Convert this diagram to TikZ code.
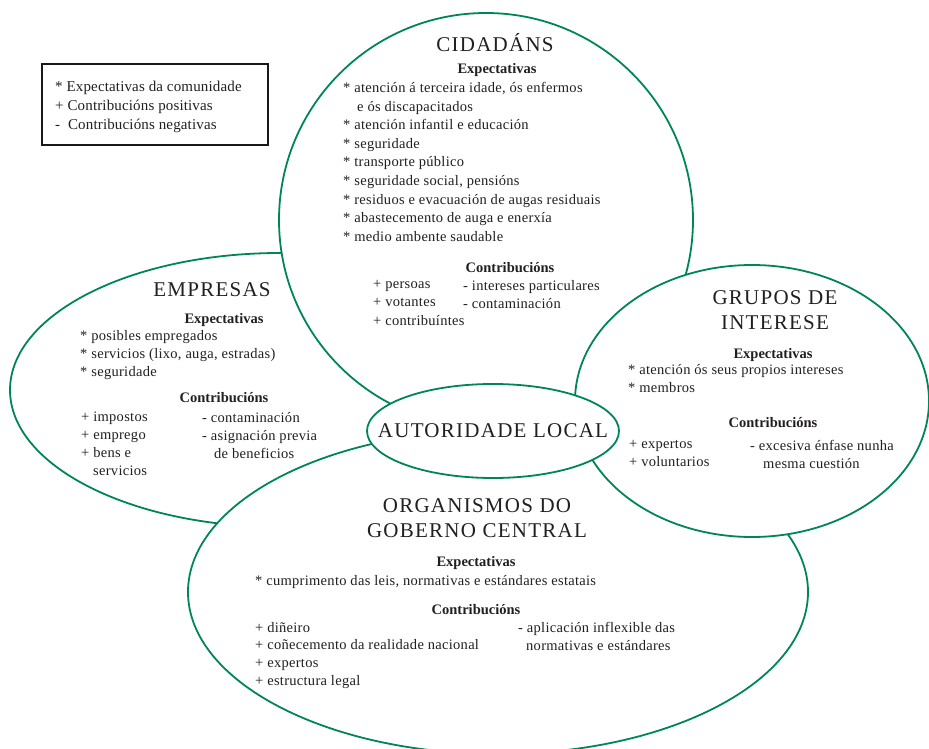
\documentclass[tikz,border=0pt]{standalone}
\usepackage{fontspec}
\setmainfont{Liberation Serif}
\usetikzlibrary{shapes.geometric}
\definecolor{zonegreen}{RGB}{0,133,90}
\definecolor{ink}{RGB}{35,31,32}

\begin{document}
\begin{tikzpicture}[
		x=1pt, y=-1pt,
		align=left,
		text=ink,
		zone/.style={ellipse, draw=zonegreen, fill=white, line width=1.8pt, inner sep=0pt},
		heading/.style={align=center, anchor=north, inner sep=0pt,
				font=\fontsize{21}{25}\selectfont\addfontfeatures{LetterSpace=6},
				execute at begin node=\rule{0pt}{15pt}},
		subhead/.style={anchor=base, inner sep=0pt, font=\fontsize{14.5}{16}\selectfont\bfseries},
		items/.style={anchor=north west, inner sep=0pt,
				font=\fontsize{14.5}{18.6}\selectfont\addfontfeatures{LetterSpace=2},
				execute at begin node=\rule{0pt}{11pt}},
		keybox/.style={rectangle, draw=black!90, line width=1.8pt, anchor=north west,
				minimum width=226, minimum height=81}
	]
	\useasboundingbox (0,0) rectangle (929,749);

	% the groups, back to front
	\node[zone, minimum width=540, minimum height=274] (empresas) at (280,390) {};
	\node[zone, minimum width=414, minimum height=414] (cidadans) at (486,220) {};
	\node[zone, minimum width=620, minimum height=324] (organismos) at (498,592) {};
	\node[zone, minimum width=354, minimum height=272] (grupos) at (752,401) {};
	\node[zone, minimum width=252, minimum height=94] (autoridade) at (493,431) {};
	\node[font=\fontsize{21}{25}\selectfont\addfontfeatures{LetterSpace=6}, inner sep=0pt]
		(autoridadetext) at (autoridade.center) {AUTORIDADE LOCAL};

	% key
	\node[keybox] (key) at (41,63) {};
	\node[items, font=\fontsize{15}{19}\selectfont\addfontfeatures{LetterSpace=1}] (keytext) at (55,81)
	{* Expectativas da comunidade\\+ Contribucións positivas\\-\hspace*{4pt} Contribucións negativas};

	% cidadans
	\node[heading] (cidtitle) at (495,33) {CIDADÁNS};
	\node[subhead] (cidexp) at (497,74) {Expectativas};
	\node[items] (cidexplist) at (343,82)
	{* atención á terceira idade, ós enfermos\\\hspace*{14pt}e ós discapacitados\\* atención infantil e educación\\* seguridade\\* transporte público\\* seguridade social, pensións\\* residuos e evacuación de augas residuais\\* abastecemento de auga e enerxía\\* medio ambente saudable};
	\node[subhead] (cidcon) at (510,272) {Contribucións};
	\node[items] (cidplus) at (373,280) {+ persoas\\+ votantes\\+ contribuíntes};
	\node[items] (cidminus) at (463,280) {- intereses particulares\\- contaminación};

	% empresas
	\node[heading] (emptitle) at (212,281) {EMPRESAS};
	\node[subhead] (empexp) at (224,323) {Expectativas};
	\node[items, font=\fontsize{14.5}{18}\selectfont\addfontfeatures{LetterSpace=2}] (empexplist) at (80,330)
	{* posibles empregados\\* servicios (lixo, auga, estradas)\\* seguridade};
	\node[subhead] (empcon) at (224,402) {Contribucións};
	\node[items, font=\fontsize{14.5}{18}\selectfont\addfontfeatures{LetterSpace=2}] (empplus) at (81,412)
	{+ impostos\\+ emprego\\+ bens e\\\hspace*{12pt}servicios};
	\node[items, font=\fontsize{14.5}{18}\selectfont\addfontfeatures{LetterSpace=2}] (empminus) at (202,412)
	{- contaminación\\- asignación previa\\\hspace*{12pt}de beneficios};

	% grupos de interese
	\node[heading] (grutitle) at (775,290) {GRUPOS DE\\INTERESE};
	\node[subhead] (gruexp) at (773,358) {Expectativas};
	\node[items, font=\fontsize{14.5}{18}\selectfont\addfontfeatures{LetterSpace=2}] (gruexplist) at (628,364)
	{* atención ós seus propios intereses\\* membros};
	\node[subhead] (grucon) at (773,427) {Contribucións};
	\node[items, font=\fontsize{14.5}{18}\selectfont\addfontfeatures{LetterSpace=2}] (gruplus) at (629,440) {+ expertos\\+ voluntarios};
	\node[items, font=\fontsize{14.5}{18}\selectfont\addfontfeatures{LetterSpace=2}] (gruminus) at (750,440)
	{- excesiva énfase nunha\\\hspace*{13pt}mesma cuestión};

	% organismos do goberno central
	\node[heading] (orgtitle) at (477,498) {ORGANISMOS DO\\GOBERNO CENTRAL};
	\node[subhead] (orgexp) at (476,566) {Expectativas};
	\node[items] (orgexplist) at (255,574) {* cumprimento das leis, normativas e estándares estatais};
	\node[subhead] (orgcon) at (476,614) {Contribucións};
	\node[items, font=\fontsize{14.5}{17.7}\selectfont\addfontfeatures{LetterSpace=2}] (orgplus) at (255,622)
	{+ diñeiro\\+ coñecemento da realidade nacional\\+ expertos\\+ estructura legal};
	\node[items, font=\fontsize{14.5}{17.7}\selectfont\addfontfeatures{LetterSpace=2}] (orgminus) at (518,622)
	{- aplicación inflexible das\\\hspace*{8pt}normativas e estándares};
\end{tikzpicture}
\end{document}
